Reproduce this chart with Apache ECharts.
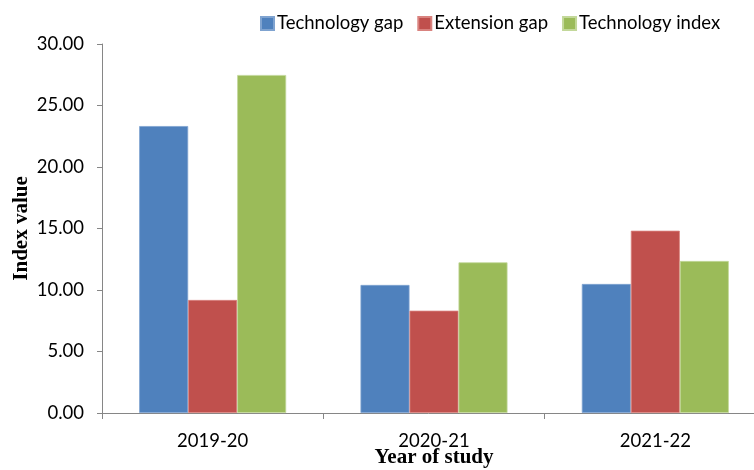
<!DOCTYPE html>
<html>
<head>
<meta charset="utf-8">
<script src="https://cdn.jsdelivr.net/npm/echarts@6/dist/echarts.min.js"></script>
<style>html,body{margin:0;padding:0;background:#fff}#c{width:754px;height:470px}</style>
</head>
<body>
<div id="c"></div>
<script>
var categories = ['2019-20', '2020-21', '2021-22'];
var technologyGap = [23.33, 10.41, 10.49];
var extensionGap = [9.19, 8.32, 14.82];
var technologyIndex = [27.48, 12.25, 12.36];
var seriesNames = ['Technology gap', 'Extension gap', 'Technology index'];

var chart = echarts.init(document.getElementById('c'), null, {renderer: 'canvas'});
var labelFont = 'Lato, "Open Sans", sans-serif';
var titleFont = '"Liberation Serif", "DejaVu Serif", serif';
chart.setOption({
  animation: false,
  legend: {
    top: 9,
    left: 255,
    itemWidth: 13,
    itemHeight: 13,
    itemGap: 14,
    icon: 'rect',
    textStyle: {fontFamily: labelFont, fontSize: 18.5, color: '#000', padding: [0, 0, 0, -2]},
    data: seriesNames
  },
  grid: {left: 102, top: 44, bottom: 57, width: 664, containLabel: false, outerBoundsMode: 'none'},
  xAxis: {
    type: 'category',
    data: categories,
    axisLine: {lineStyle: {color: '#868686', width: 1}},
    axisTick: {show: true, length: 6, lineStyle: {color: '#868686'}},
    axisLabel: {fontFamily: labelFont, fontSize: 18.5, color: '#000', margin: 19},
    name: 'Year of study',
    nameLocation: 'middle',
    nameGap: 34,
    nameMoveOverlap: false,
    nameTextStyle: {fontFamily: titleFont, fontWeight: 'bold', fontSize: 21, color: '#000'}
  },
  yAxis: {
    type: 'value',
    min: 0, max: 30, interval: 5,
    axisLine: {show: true, lineStyle: {color: '#868686', width: 1}},
    axisTick: {show: true, length: 5, lineStyle: {color: '#868686'}},
    splitLine: {show: false},
    axisLabel: {fontFamily: labelFont, fontSize: 18.5, color: '#000', margin: 18,
      formatter: function (v) { return v.toFixed(2); }},
    name: 'Index value',
    nameLocation: 'middle',
    nameGap: 70,
    nameMoveOverlap: false,
    nameTextStyle: {fontFamily: titleFont, fontWeight: 'bold', fontSize: 21, color: '#000'}
  },
  series: [
    {name: seriesNames[0], type: 'bar', data: technologyGap, barWidth: 49, barGap: '0%',
     itemStyle: {color: '#4F81BD', borderColor: '#7FA3D0', borderWidth: 0.8}},
    {name: seriesNames[1], type: 'bar', data: extensionGap, barWidth: 49, barGap: '0%',
     itemStyle: {color: '#C0504D', borderColor: '#D9837F', borderWidth: 0.8}},
    {name: seriesNames[2], type: 'bar', data: technologyIndex, barWidth: 49, barGap: '0%',
     itemStyle: {color: '#9BBB59', borderColor: '#C3D89A', borderWidth: 0.8}}
  ]
});
</script>
</body>
</html>
